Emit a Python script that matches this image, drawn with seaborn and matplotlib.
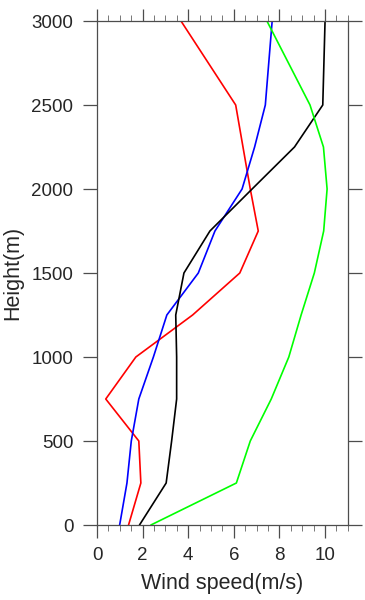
import numpy as np
import pandas as pd
import matplotlib
matplotlib.use('Agg')
import matplotlib.pyplot as plt
import seaborn as sns
from matplotlib.ticker import MultipleLocator

# Heights (m) and wind speed profiles (m/s)
heights = [0, 250, 500, 750, 1000, 1250, 1500, 1750, 2000, 2250, 2500, 3000]
red = [1.38, 1.92, 1.83, 0.38, 1.70, 4.19, 6.26, 7.07, 6.72, 6.40, 6.08, 3.68]
blue = [0.99, 1.31, 1.50, 1.83, 2.47, 3.06, 4.44, 5.17, 6.36, 6.91, 7.38, 7.68]
black = [1.86, 3.03, 3.27, 3.49, 3.49, 3.45, 3.81, 4.95, 6.80, 8.66, 9.90, 10.0]
green = [2.36, 6.11, 6.72, 7.64, 8.41, 8.95, 9.53, 9.94, 10.09, 9.93, 9.34, 7.45]

series = {'red': red, 'blue': blue, 'black': black, 'green': green}
colors = {'red': '#ff0000', 'blue': '#0000ff', 'black': '#000000', 'green': '#00ff00'}

rows = []
for name, vals in series.items():
    for h, v in zip(heights, vals):
        rows.append({'case': name, 'height': h, 'speed': v})
df = pd.DataFrame(rows)

sns.set_style('white')
plt.rcParams['font.family'] = ['Liberation Sans', 'DejaVu Sans']

fig = plt.figure(figsize=(3.65, 6), dpi=100)
ax = fig.add_axes([0.266, 0.125, 0.687, 0.84])

sns.lineplot(data=df, x='speed', y='height', hue='case', palette=colors,
             orient='y', estimator=None, sort=False, legend=False,
             linewidth=1.2, ax=ax)

ax.set_xlim(0, 11)
ax.set_ylim(0, 3000)
ax.xaxis.set_major_locator(MultipleLocator(2))
ax.xaxis.set_minor_locator(MultipleLocator(0.5))
ax.yaxis.set_major_locator(MultipleLocator(500))

for s in ax.spines.values():
    s.set_color('#4d4d4d')
    s.set_linewidth(0.9)

ax.tick_params(axis='x', which='major', direction='out', length=9, width=0.9,
               color='#4d4d4d', top=True, bottom=True, labelsize=13.5, pad=7)
ax.tick_params(axis='x', which='minor', direction='out', length=4.5, width=0.7,
               color='#777777', top=True, bottom=True)
ax.tick_params(axis='y', which='major', direction='out', length=10, width=0.9,
               color='#4d4d4d', left=True, right=True, labelsize=13.5, pad=7)

ax.set_xlabel('Wind speed(m/s)', fontsize=15.5, labelpad=6)
ax.set_ylabel('Height(m)', fontsize=15.5, labelpad=6)

fig.savefig('out.png', dpi=100)
